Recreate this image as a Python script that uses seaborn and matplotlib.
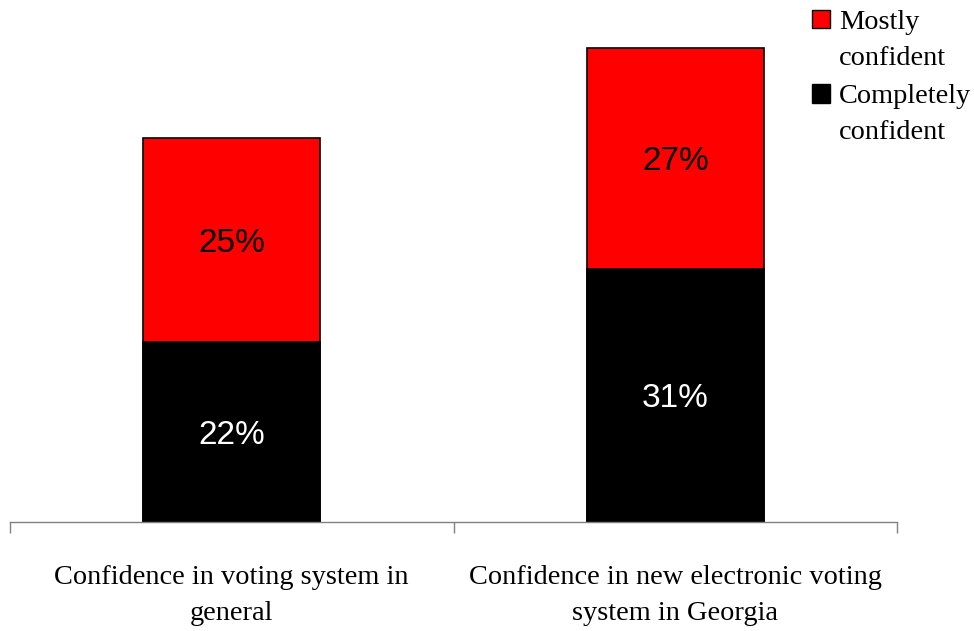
import matplotlib
matplotlib.use("Agg")
import matplotlib.pyplot as plt
from matplotlib.patches import Patch, Rectangle
from matplotlib.legend_handler import HandlerPatch
import seaborn as sns
import pandas as pd

categories = ["Confidence in voting system in\ngeneral",
              "Confidence in new electronic voting\nsystem in Georgia"]
completely = [22, 31]
mostly = [25, 27]
series_names = ["Mostly\nconfident", "Completely\nconfident"]

sns.set_theme(style="white")
plt.rcParams["font.family"] = ["Liberation Serif", "DejaVu Serif"]
plt.rcParams["text.color"] = "black"
plt.rcParams["xtick.color"] = "black"

df = pd.DataFrame({
    "category": categories,
    "completely": completely,
    "mostly": mostly,
})
df["total"] = df["completely"] + df["mostly"]

fig = plt.figure(figsize=(9.74, 6.31), dpi=100)
ax = fig.add_axes([10 / 974, (631 - 522) / 631, 887 / 974, 522 / 631])

# stacked bars: the full height in red, the lower segment in black over it
sns.barplot(data=df, x="category", y="total", color="#ff0000", width=0.40,
            edgecolor="black", linewidth=1.2, saturation=1, ax=ax)
sns.barplot(data=df, x="category", y="completely", color="black", width=0.40,
            edgecolor="black", linewidth=1.2, saturation=1, ax=ax)

for i, (c, m) in enumerate(zip(completely, mostly)):
    ax.text(i, c / 2, f"{c}%", ha="center", va="center_baseline", color="white",
            fontsize=24, family="Liberation Sans")
    ax.text(i, c + m / 2, f"{m}%", ha="center", va="center_baseline", color="black",
            fontsize=24, family="Liberation Sans")

ax.set_xlim(-0.5, 1.5)
ax.set_ylim(0, 63.9)
ax.set_xlabel("")
ax.set_ylabel("")
ax.set_yticks([])
for side in ["top", "right", "left"]:
    ax.spines[side].set_visible(False)
ax.spines["bottom"].set_color("#808080")
ax.spines["bottom"].set_linewidth(1)

ax.set_xticks([0, 1])
ax.set_xticklabels(categories, fontsize=20.4, linespacing=1.55, color="black")
ax.tick_params(axis="x", which="major", length=0, pad=31)
ax.set_xticks([-0.5, 0.5, 1.5], minor=True)
ax.tick_params(axis="x", which="minor", length=8, width=1, color="#808080",
               direction="out", bottom=True)


def first_line_box(legend, orig_handle, xdescent, ydescent, width, height, fontsize):
    # square aligned with the first line of a two-line label
    return Rectangle((-xdescent, -ydescent + 0.74 * fontsize), width, height)


handles = [Patch(facecolor="#ff0000", edgecolor="black", linewidth=1),
           Patch(facecolor="black", edgecolor="black", linewidth=1)]
leg = fig.legend(handles, series_names, loc="upper left",
                 bbox_to_anchor=(792 / 974, 1.016), frameon=False, fontsize=20.4,
                 handlelength=0.64, handleheight=0.64, handletextpad=0.31,
                 labelspacing=0.45, borderpad=0.2,
                 handler_map={Patch: HandlerPatch(patch_func=first_line_box)})
for t in leg.get_texts():
    t.set_linespacing(1.6)
    t.set_color("black")

fig.savefig("out.png", dpi=100)
